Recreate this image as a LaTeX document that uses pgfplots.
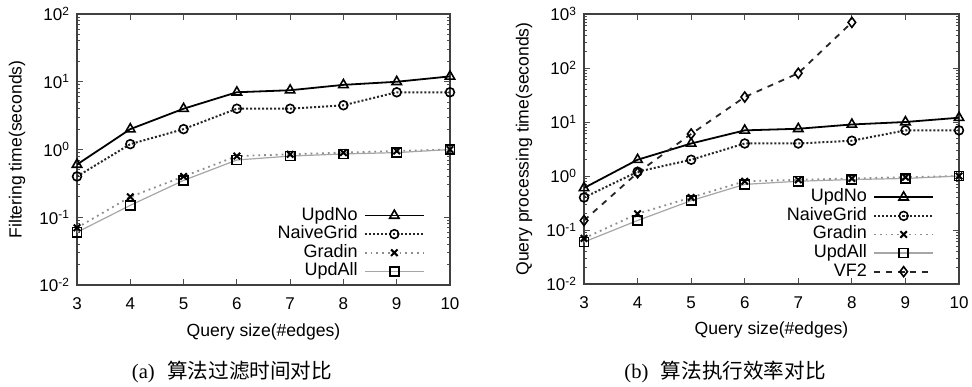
\documentclass[border=0pt]{standalone}
\usepackage{fontspec}
\setmainfont{Liberation Sans}
\newfontfamily\seriffont{Liberation Serif}
\newfontfamily\cjk{Noto Sans CJK SC}
\usepackage{pgfplots}
\pgfplotsset{compat=1.18}

\pgfplotsset{
 myaxis/.style={
  scale only axis,
  /pgf/number format/assume math mode=true,
  xmin=3, xmax=10, xtick={3,...,10},
  axis line style={black!75, line width=0.7pt},
  tick style={black!70, line width=0.5pt},
  major tick length=3pt, minor tick length=1.5pt,
  tick align=inside,
  tick label style={font=\fontsize{8.5}{9}\selectfont},
  xticklabel style={yshift=-3pt},
  label style={font=\fontsize{8.8}{10}\selectfont},
  xlabel={Query size(\#edges)},
  xlabel style={at={(axis description cs:0.5,-0.172)},anchor=center},
  legend style={draw=none, fill=none, font=\fontsize{9}{10}\selectfont,
     anchor=south east, row sep=0pt,
     nodes={inner sep=0.6pt, text height=6.3pt, text depth=1.8pt},
     /tikz/every odd column/.append style={column sep=2.5pt}},
  legend cell align=right, legend plot pos=right,
  legend image code/.code={\draw[mark repeat=2,mark phase=2] plot coordinates {(0cm,0cm)(0.52cm,0cm)(1.04cm,0cm)};},
 },
 updno/.style={black, line width=0.9pt, mark=triangle, mark size=2.7pt, mark options={solid, black, line width=0.8pt}},
 naive/.style={black!85, line width=1pt, densely dotted, mark=o, mark size=2.2pt, mark options={solid, black, line width=0.8pt}},
 gradin/.style={black!45, line width=0.9pt, dotted, mark=x, mark size=2.3pt, mark options={solid, black, line width=1pt}},
 updall/.style={black!35, line width=0.6pt, mark=square, mark size=2.3pt, mark options={solid, black, line width=0.8pt}},
 vf2/.style={black!85, line width=0.9pt, dashed, mark=diamond, mark size=2.5pt, mark options={solid, black, line width=0.8pt}},
}

\begin{document}
\begin{tikzpicture}
\path[use as bounding box] (0pt,0pt) rectangle (486pt,193pt);

\begin{semilogyaxis}[myaxis, at={(38.5pt,50.5pt)}, anchor=south west,
  width=186.5pt, height=135.5pt,
  ymin=0.01, ymax=100,
  ytick={0.01,0.1,1,10,100},
  yticklabels={10\textsuperscript{-2},10\textsuperscript{-1},10\textsuperscript{0},10\textsuperscript{1},10\textsuperscript{2}},
  ylabel={Filtering time(seconds)},
  ylabel style={at={(axis description cs:-0.161,0.5)},anchor=center},
  legend style={at={(0.95,0.0)}},
]
\addplot[updno] coordinates {(3,0.6)(4,2)(5,4)(6,7)(7,7.5)(8,9)(9,10)(10,12)};
\addlegendentry{UpdNo}
\addplot[naive] coordinates {(3,0.4)(4,1.2)(5,2)(6,4)(7,4)(8,4.5)(9,7)(10,7)};
\addlegendentry{NaiveGrid}
\addplot[gradin] coordinates {(3,0.07)(4,0.2)(5,0.4)(6,0.8)(7,0.85)(8,0.9)(9,0.95)(10,1.0)};
\addlegendentry{Gradin}
\addplot[updall] coordinates {(3,0.06)(4,0.15)(5,0.35)(6,0.7)(7,0.8)(8,0.86)(9,0.9)(10,1.0)};
\addlegendentry{UpdAll}
\end{semilogyaxis}

\begin{semilogyaxis}[myaxis, at={(292pt,51pt)}, anchor=south west,
  width=187.5pt, height=135pt,
  ymin=0.01, ymax=1000,
  ytick={0.01,0.1,1,10,100,1000},
  yticklabels={10\textsuperscript{-2},10\textsuperscript{-1},10\textsuperscript{0},10\textsuperscript{1},10\textsuperscript{2},10\textsuperscript{3}},
  ylabel={Query processing time(seconds)},
  ylabel style={at={(axis description cs:-0.16,0.5)},anchor=center},
  legend style={at={(0.951,-0.005)}},
]
\addplot[updno] coordinates {(3,0.6)(4,2)(5,4)(6,7)(7,7.5)(8,9)(9,10)(10,12)};
\addlegendentry{UpdNo}
\addplot[naive] coordinates {(3,0.4)(4,1.2)(5,2)(6,4)(7,4)(8,4.5)(9,7)(10,7)};
\addlegendentry{NaiveGrid}
\addplot[gradin] coordinates {(3,0.07)(4,0.2)(5,0.4)(6,0.8)(7,0.85)(8,0.9)(9,0.95)(10,1.0)};
\addlegendentry{Gradin}
\addplot[updall] coordinates {(3,0.06)(4,0.15)(5,0.35)(6,0.7)(7,0.8)(8,0.86)(9,0.9)(10,1.0)};
\addlegendentry{UpdAll}
\addplot[vf2] coordinates {(3,0.15)(4,1.15)(5,6)(6,29)(7,80)(8,700)};
\addlegendentry{VF2}
\end{semilogyaxis}

\node[font=\fontsize{10.3}{12}\selectfont] at (116pt,7pt) {{\seriffont (a)}\hspace{0.6em}{\cjk 算法过滤时间对比}};
\node[font=\fontsize{10.3}{12}\selectfont] at (362.5pt,7pt) {{\seriffont (b)}\hspace{0.6em}{\cjk 算法执行效率对比}};
\end{tikzpicture}
\end{document}
